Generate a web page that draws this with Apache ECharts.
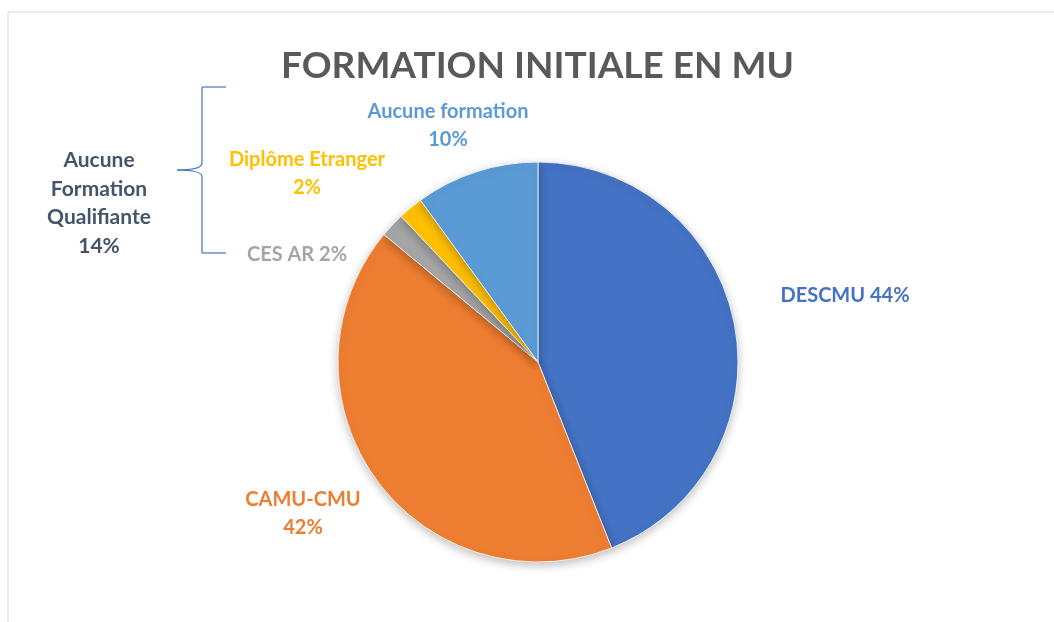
<!DOCTYPE html>
<html>
<head>
<meta charset="utf-8">
<script src="https://cdn.jsdelivr.net/npm/echarts@6/dist/echarts.min.js"></script>
<style>
  html, body { margin: 0; padding: 0; background: #fff; }
  #chart { width: 1054px; height: 622px; }
</style>
</head>
<body>
<div id="chart"></div>
<script>
const categories = ['DESCMU', 'CAMU-CMU', 'CES AR', 'Diplôme Etranger', 'Aucune formation'];
const values = [44, 42, 2, 2, 10];
const colors = ['#4472C4', '#ED7D31', '#A5A5A5', '#FFC000', '#5B9BD5'];
// categories grouped under the brace
const groupedCategories = ['CES AR', 'Diplôme Etranger', 'Aucune formation'];

const FONT = 'Lato';

// label placement, like Excel's manual positions
const labelPos = {
  'DESCMU': { x: 845, y: 296, sep: ' ' },
  'CAMU-CMU': { x: 303, y: 514, sep: '\n' },
  'CES AR': { x: 297, y: 255, sep: ' ' },
  'Diplôme Etranger': { x: 307, y: 174, sep: '\n' },
  'Aucune formation': { x: 448, y: 126, sep: '\n' }
};

const total = values.reduce((a, b) => a + b, 0);
const groupPct = Math.round(
  groupedCategories.reduce((s, c) => s + values[categories.indexOf(c)], 0) / total * 100
);

const braceStyle = { stroke: '#4472C4', lineWidth: 1.2, fill: 'none' };

const chart = echarts.init(document.getElementById('chart'));

const option = {
  backgroundColor: '#fff',
  title: {
    text: 'FORMATION INITIALE EN MU',
    left: 276,
    top: 43,
    textStyle: {
      color: '#595959',
      fontSize: 37,
      fontWeight: 'bold',
      fontFamily: FONT
    }
  },
  graphic: [
    {
      type: 'rect',
      shape: { x: 8, y: 12, width: 1100, height: 700 },
      style: { fill: 'none', stroke: '#D9D9D9', lineWidth: 1 },
      silent: true
    },
    // curly brace
    { type: 'bezierCurve', shape: { x1: 226, y1: 87, x2: 202, y2: 87, cpx1: 202, cpy1: 87 }, style: braceStyle },
    { type: 'line', shape: { x1: 202, y1: 87, x2: 202, y2: 163 }, style: braceStyle },
    { type: 'bezierCurve', shape: { x1: 202, y1: 163, x2: 177, y2: 170, cpx1: 202, cpy1: 170 }, style: braceStyle },
    { type: 'bezierCurve', shape: { x1: 177, y1: 170, x2: 202, y2: 177, cpx1: 202, cpy1: 170 }, style: braceStyle },
    { type: 'line', shape: { x1: 202, y1: 177, x2: 202, y2: 253 }, style: braceStyle },
    { type: 'bezierCurve', shape: { x1: 202, y1: 253, x2: 226, y2: 253, cpx1: 202, cpy1: 253 }, style: braceStyle },
    {
      type: 'text',
      x: 99,
      y: 203,
      style: {
        text: 'Aucune\nFormation\nQualifiante\n' + groupPct + '%',
        fill: '#44546A',
        font: 'bold 21px ' + FONT,
        lineHeight: 28.5,
        align: 'center',
        verticalAlign: 'middle'
      }
    }
  ],
  series: [
    {
      type: 'pie',
      center: [538, 362],
      radius: 200,
      startAngle: 90,
      clockwise: true,
      animation: false,
      data: categories.map((c, i) => ({
        name: c,
        value: values[i],
        itemStyle: { color: colors[i] },
        label: { color: colors[i] }
      })),
      itemStyle: {
        borderColor: '#fff',
        borderWidth: 0.8,
        shadowBlur: 10,
        shadowColor: 'rgba(0,0,0,0.25)',
        shadowOffsetY: 3
      },
      label: {
        show: true,
        position: 'outside',
        fontFamily: FONT,
        fontWeight: 'bold',
        fontSize: 20,
        lineHeight: 28,
        align: 'center',
        formatter: p => p.name + labelPos[p.name].sep + Math.round(p.percent) + '%'
      },
      labelLine: { show: false },
      labelLayout: params => {
        const pos = labelPos[categories[params.dataIndex]];
        return { x: pos.x, y: pos.y, align: 'center', verticalAlign: 'middle' };
      }
    }
  ]
};

chart.setOption(option);
</script>
</body>
</html>
